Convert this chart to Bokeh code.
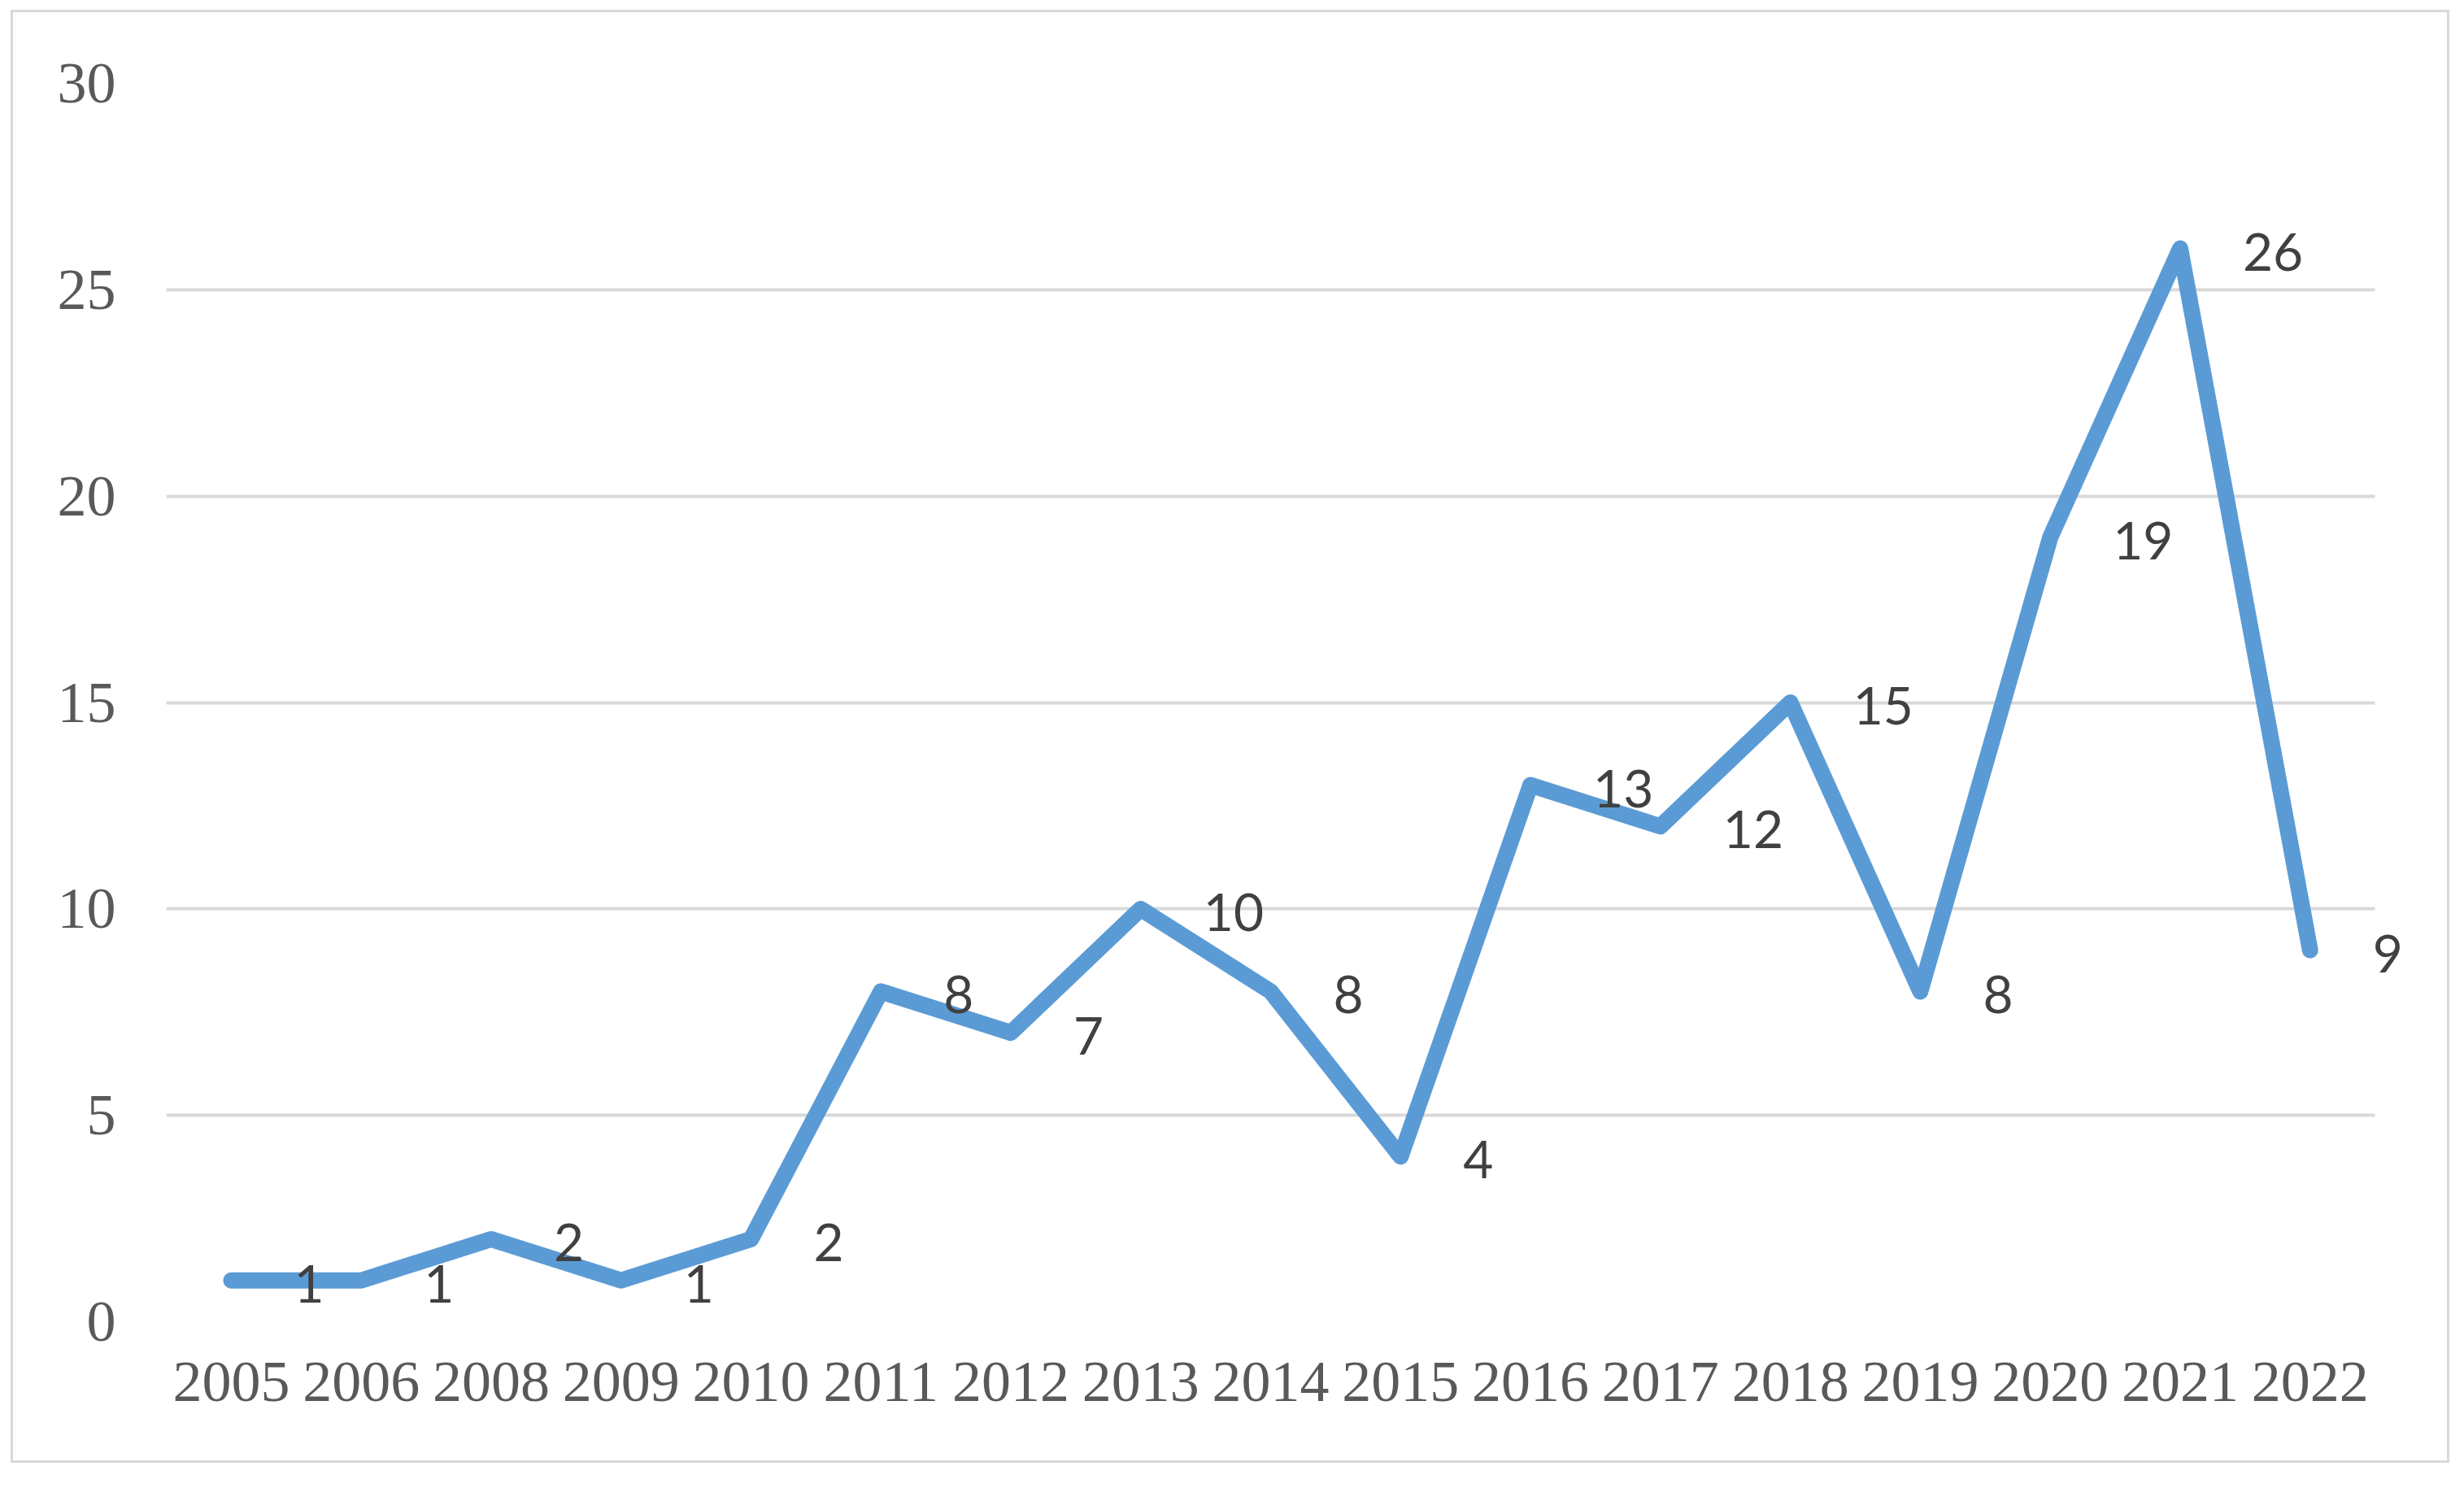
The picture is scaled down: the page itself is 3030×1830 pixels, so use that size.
from bokeh.plotting import figure
from bokeh.models import ColumnDataSource, Range1d, FixedTicker, LabelSet
from bokeh.core.properties import value
from bokeh.embed import file_html
from bokeh.resources import INLINE

years = ["2005", "2006", "2008", "2009", "2010", "2011", "2012", "2013", "2014",
         "2015", "2016", "2017", "2018", "2019", "2020", "2021", "2022"]
counts = [1, 1, 2, 1, 2, 8, 7, 10, 8, 4, 13, 12, 15, 8, 19, 26, 9]
y_ticks = [0, 5, 10, 15, 20, 25, 30]

idx = list(range(len(years)))
n = len(years)
src = ColumnDataSource(dict(x=idx, y=counts, lab=[str(c) for c in counts]))

# frame: category band width ~159.76px; extra room on the right so the last label is not clipped
band = 159.76
extra = 0.5
p = figure(x_range=Range1d(-0.5, n - 0.5 + extra), y_range=Range1d(0, 30),
           width=2999, height=1787, output_backend="svg", toolbar_location=None,
           min_border_left=188, min_border_right=int(2999 - 188 - band * (n + extra)),
           min_border_top=87, min_border_bottom=177)
p.margin = (12, 0, 0, 13)
p.styles = {"border": "3px solid #d9d9d9", "box-sizing": "border-box"}
p.outline_line_color = None
p.background_fill_color = "white"
p.border_fill_color = "white"

p.xgrid.grid_line_color = None
p.ygrid.grid_line_color = "#d9d9d9"
p.ygrid.grid_line_width = 4
p.ygrid.cross_bounds = (-0.5, n - 0.5)

p.yaxis.ticker = FixedTicker(ticks=y_ticks)
p.xaxis.ticker = FixedTicker(ticks=idx)
p.xaxis.major_label_overrides = {i: y for i, y in zip(idx, years)}
for ax in (p.xaxis, p.yaxis):
    ax.axis_line_color = None
    ax.major_tick_line_color = None
    ax.minor_tick_line_color = None
    ax.major_tick_in = 0
    ax.major_tick_out = 0
    ax.minor_tick_in = 0
    ax.minor_tick_out = 0
    ax.major_label_text_font = "Liberation Serif"
    ax.major_label_text_font_size = "72px"
    ax.major_label_text_color = "#595959"
p.yaxis.major_label_standoff = 62
p.xaxis.major_label_standoff = 50

p.line("x", "y", source=src, line_color="#5b9bd5", line_width=20,
       line_join="round", line_cap="round")
labels = LabelSet(x="x", y="y", text="lab", source=src, x_offset=77, y_offset=-4,
                  text_align="left", text_baseline="middle",
                  text_font=value("Lato"), text_font_size="64px", text_color="#404040")
p.add_layout(labels)

open("out.html", "w").write(file_html(p, INLINE))
